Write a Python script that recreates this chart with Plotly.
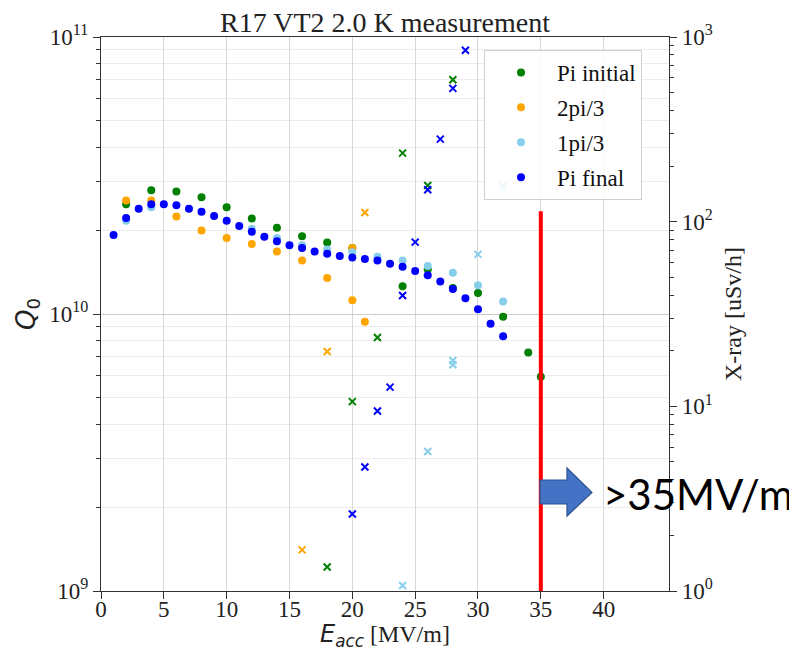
import plotly.graph_objects as go

# ---------------- data ----------------
# Q0 (left axis) : circles
pi_init_E = [2, 4, 6, 8, 10, 12, 14, 16, 18, 20, 24, 26, 28, 30, 32, 34, 35]
pi_init_Q = [2.49e10, 2.80e10, 2.77e10, 2.64e10, 2.43e10, 2.21e10, 2.05e10, 1.91e10,
             1.81e10, 1.73e10, 1.26e10, 1.45e10, 1.24e10, 1.19e10, 9.77e9, 7.26e9, 5.93e9]

two_pi3_E = [2, 4, 6, 8, 10, 12, 14, 16, 18, 20, 20, 21]
two_pi3_Q = [2.57e10, 2.57e10, 2.25e10, 2.00e10, 1.88e10, 1.79e10, 1.68e10, 1.56e10,
             1.35e10, 1.73e10, 1.12e10, 9.37e9]

one_pi3_E = [2, 4, 12, 14, 16, 18, 20, 22, 24, 26, 28, 30, 32]
one_pi3_Q = [2.17e10, 2.43e10, 2.03e10, 1.88e10, 1.77e10, 1.71e10, 1.67e10, 1.61e10,
             1.56e10, 1.49e10, 1.41e10, 1.27e10, 1.11e10]

pi_final_E = list(range(1, 33))
pi_final_Q = [1.93e10, 2.22e10, 2.40e10, 2.49e10, 2.49e10, 2.47e10, 2.40e10, 2.34e10,
              2.26e10, 2.17e10, 2.08e10, 1.98e10, 1.90e10, 1.83e10, 1.77e10, 1.73e10,
              1.68e10, 1.65e10, 1.62e10, 1.60e10, 1.58e10, 1.56e10, 1.52e10, 1.48e10,
              1.43e10, 1.38e10, 1.31e10, 1.23e10, 1.14e10, 1.04e10, 9.22e9, 8.31e9]

# X-ray (right axis) : crosses
pi_init_xE = [18, 20, 22, 24, 26, 28]
pi_init_X = [1.35, 10.6, 23.6, 235, 157, 587]

two_pi3_xE = [16, 18, 21]
two_pi3_X = [1.67, 19.8, 112]

one_pi3_xE = [24, 26, 28, 28, 30, 32]
one_pi3_X = [1.07, 5.69, 17.7, 16.8, 66.5, 156]

pi_final_xE = [20, 21, 22, 23, 24, 25, 26, 27, 28, 29]
pi_final_X = [2.61, 4.69, 9.43, 12.7, 39.8, 77.5, 149, 280, 527, 847]

# threshold line
limit_E = [35, 35]
limit_Q = [1e9, 2.35e10]

series_names = ["Pi initial", "2pi/3", "1pi/3", "Pi final"]
series_colors = ["green", "orange", "skyblue", "blue"]

q_tickvals = [1e9, 1e10, 1e11]
q_ticktext = ["10<sup>9</sup>", "10<sup>10</sup>", "10<sup>11</sup>"]
x_tickvals = [0, 5, 10, 15, 20, 25, 30, 35, 40]
xr_tickvals = [1, 10, 100, 1000]
xr_ticktext = ["10<sup>0</sup>", "10<sup>1</sup>", "10<sup>2</sup>", "10<sup>3</sup>"]

# ---------------- figure ----------------
SERIF = "Liberation Serif"
# page body adds an 8px offset; figure geometry compensates for it
OFF = 8
W, H = 797 - OFF, 651 - OFF
PL, PR, PT, PB = 101 - OFF, 669 - OFF, 37 - OFF, 591 - OFF   # plot area in figure px

fig = go.Figure()

q_series = [(pi_init_E, pi_init_Q), (two_pi3_E, two_pi3_Q), (one_pi3_E, one_pi3_Q), (pi_final_E, pi_final_Q)]
x_series = [(pi_init_xE, pi_init_X), (two_pi3_xE, two_pi3_X), (one_pi3_xE, one_pi3_X), (pi_final_xE, pi_final_X)]

for i, ((ex, qv), name, col) in enumerate(zip(q_series, series_names, series_colors)):
    fig.add_trace(go.Scatter(x=ex, y=qv, mode="markers", name=name, legendgroup=f"g{i}",
                             marker=dict(color=col, size=8), yaxis="y"))

fig.add_trace(go.Scatter(x=limit_E, y=limit_Q, mode="lines", showlegend=False,
                         line=dict(color="red", width=4), yaxis="y"))

for (ex, xv), col in zip(x_series, series_colors):
    fig.add_trace(go.Scatter(x=ex, y=xv, mode="markers", showlegend=False, yaxis="y2",
                             marker=dict(symbol="x-thin", size=7, color=col,
                                         line=dict(color=col, width=2))))

def minor_vals(lo, hi):
    out = []
    for d in range(lo, hi):
        for m in range(2, 10):
            out.append(m * 10 ** d)
    return out

axis_common = dict(showline=True, linecolor="#333333", linewidth=1.2, ticks="outside",
                   tickcolor="#333333", ticklen=7, tickwidth=1.2,
                   tickfont=dict(family=SERIF, size=23, color="#222222"), zeroline=False,
                   automargin=False)

fig.update_layout(
    width=W, height=H,
    margin=dict(l=PL, r=W - PR, t=PT, b=H - PB),
    paper_bgcolor="white", plot_bgcolor="white",
    font=dict(family=SERIF, color="#222222"),
    title=dict(text="R17 VT2 2.0 K measurement", x=(385 - OFF) / W, xanchor="center",
               y=1 - (22 - OFF) / H, yanchor="middle", yref="container",
               font=dict(family=SERIF, size=28, color="#222222")),
    xaxis=dict(range=[0, 45.2], tickvals=x_tickvals, mirror=True, showgrid=True,
               gridcolor="#d8d8d8", gridwidth=1, ticklabelstandoff=-10,
               title=dict(text='<span style="font-family:DejaVu Sans"><i>E</i><sub><i>acc</i></sub></span> [MV/m]',
                          font=dict(family=SERIF, size=24, color="#222222"), standoff=10),
               **axis_common),
    yaxis=dict(type="log", range=[9, 11], tickvals=q_tickvals, ticktext=q_ticktext,
               showgrid=True, gridcolor="#cccccc", gridwidth=1,
               minor=dict(tickvals=minor_vals(9, 11), ticks="outside", ticklen=4,
                          tickcolor="#333333", showgrid=True, gridcolor="#ececec"),
               title=dict(text="<i>Q</i><sub>0</sub>",
                          font=dict(family="DejaVu Sans", size=26, color="#222222"), standoff=6),
               **axis_common),
    yaxis2=dict(type="log", range=[0, 3], overlaying="y", side="right",
                tickvals=xr_tickvals, ticktext=xr_ticktext, showgrid=False,
                minor=dict(tickvals=minor_vals(0, 3), ticks="outside", ticklen=4,
                           tickcolor="#333333", showgrid=False),
                title=dict(text="X-ray [uSv/h]", font=dict(family=SERIF, size=24, color="#222222"),
                           standoff=12),
                **axis_common),
    legend=dict(x=(484 - 101) / 568, y=(591 - 50) / 554, xanchor="left", yanchor="top",
                bgcolor="rgba(255,255,255,0.85)", bordercolor="#d0d0d0", borderwidth=1,
                font=dict(family=SERIF, size=23, color="#111111"),
                itemwidth=62, tracegroupgap=2),
    showlegend=True,
)

# block arrow and note (positions given in reference window pixels)
def px_to_paper(px, py):
    return (px - 101) / 568, (591 - py) / 554

arrow_px = [(540, 480), (567, 480), (567, 468), (592, 492.5), (567, 516), (567, 504), (540, 504)]
pts = [px_to_paper(a, b) for a, b in arrow_px]
path = "M " + " L ".join(f"{a:.4f},{b:.4f}" for a, b in pts) + " Z"
fig.add_shape(type="path", path=path, xref="paper", yref="paper",
              fillcolor="#4472C4", line=dict(color="#2F528F", width=1.2), layer="above")

tx, ty = px_to_paper(601, 494)
fig.add_annotation(text=">35MV/m", x=tx, y=ty, xref="paper", yref="paper",
                   xanchor="left", yanchor="middle", showarrow=False,
                   font=dict(family="Lato", size=42, color="black"))

fig.write_html("out.html")
